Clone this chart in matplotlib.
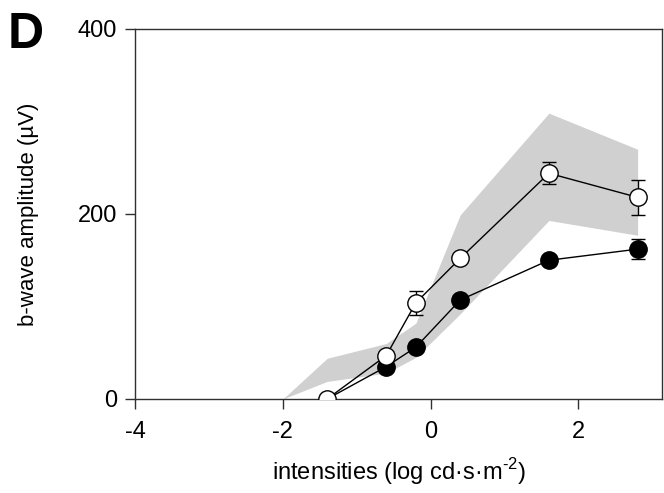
import matplotlib
matplotlib.use('Agg')
import matplotlib.pyplot as plt

plt.rcParams['font.family'] = ['Liberation Sans', 'DejaVu Sans']
plt.rcParams['axes.unicode_minus'] = False
plt.rcParams['mathtext.fontset'] = 'custom'
plt.rcParams['mathtext.rm'] = 'Liberation Sans'

# intensities (log cd s m^-2)
x = [-1.4, -0.6, -0.2, 0.4, 1.6, 2.8]
open_y = [0, 47, 104, 152, 244, 218]
open_err = [0, 3, 13, 3, 12, 19]
filled_y = [0, 35, 56, 107, 150, 162]
filled_err = [0, 3, 3, 3, 3, 11]

# shaded reference range
band_x = [-2, -1.4, -0.6, -0.2, 0.4, 1.6, 2.8]
band_hi = [0, 44, 60, 82, 199, 309, 270]
band_lo = [0, 19, 28, 45, 92, 193, 177]

fig = plt.figure(figsize=(6.64, 4.93), dpi=100)
ax = fig.add_axes([0.2033, 0.1907, 0.7937, 0.7505])

ax.fill_between(band_x, band_lo, band_hi, color='#d0d0d0', linewidth=0, zorder=1)

ax.errorbar(x[1:], filled_y[1:], yerr=filled_err[1:], color='black', lw=1,
            marker='o', ms=12.5, mfc='black', mec='black', mew=1,
            capsize=5, elinewidth=1, capthick=1, zorder=3)
ax.plot([x[0], x[1]], [filled_y[0], filled_y[1]], color='black', lw=1, zorder=3)
ax.errorbar(x, open_y, yerr=open_err, color='black', lw=1,
            marker='o', ms=12.5, mfc='white', mec='black', mew=1,
            capsize=5, elinewidth=1, capthick=1, zorder=4)

ax.set_xlim(-4, 3.13)
ax.set_ylim(0, 400)
ax.set_xticks([-4, -2, 0, 2])
ax.set_yticks([0, 200, 400])
for s in ax.spines.values():
    s.set_color('#303030')
    s.set_linewidth(1)
ax.tick_params(direction='out', length=7, width=1, color='#303030',
               labelsize=17)
ax.tick_params(axis='x', pad=9)
ax.tick_params(axis='y', pad=6)

ax.set_xlabel('intensities (log cd\u00b7s\u00b7m$^{\\text{-2}}$)', fontsize=17, labelpad=9)
ax.set_ylabel('b-wave amplitude (\u00b5V)', fontsize=16, labelpad=28)

fig.text(0.012, 0.975, 'D', fontsize=36, fontweight='bold', va='top', ha='left')

fig.savefig('out.png', dpi=100)
